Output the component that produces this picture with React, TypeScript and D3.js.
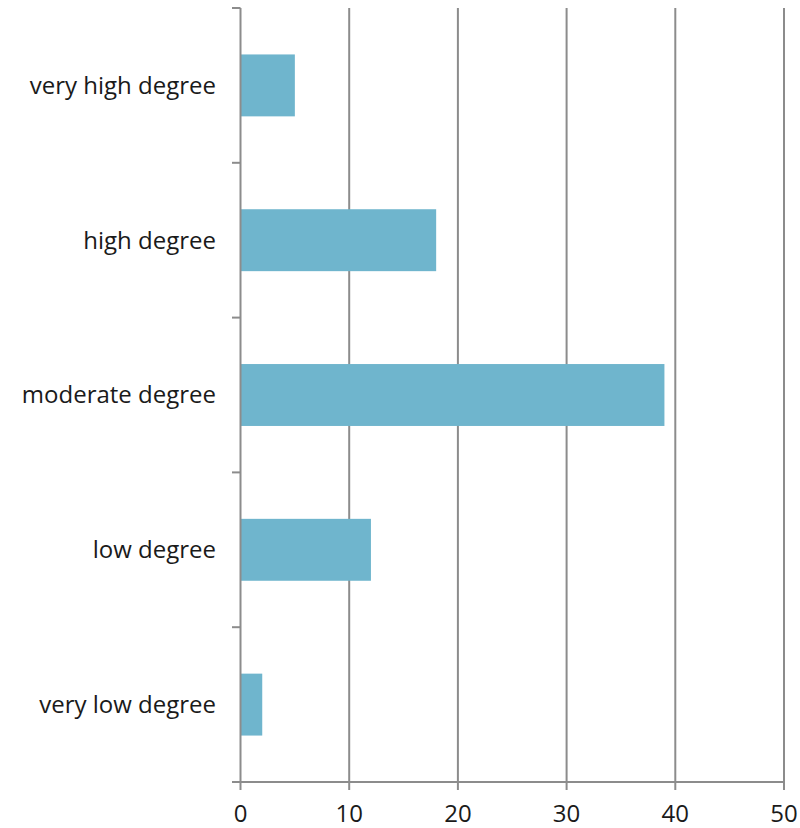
import React from "react";
import * as d3 from "d3";

const categories = ["very high degree", "high degree", "moderate degree", "low degree", "very low degree"];
const values = [5, 18, 39, 12, 2];
const xTicks = [0, 10, 20, 30, 40, 50];

export default function App() {
  const W = 800, H = 828;
  const left = 240.5, right = 784, top = 8, bottom = 782;
  const x = d3.scaleLinear().domain([0, 50]).range([left, right]);
  const y = d3.scaleBand().domain(categories).range([top, bottom]).paddingInner(0.6).paddingOuter(0.3);
  const yb = d3.scaleBand().domain(categories).range([top, bottom]);
  const grid = "#8c8c8c";
  return (
    <svg width={W} height={H} style={{ position: "absolute", left: 0, top: 0, fontFamily: "'Open Sans', sans-serif" }}>
      {xTicks.map((t) => (
        <g key={t}>
          {t > 0 && <line x1={x(t)} x2={x(t)} y1={top} y2={bottom} stroke={grid} strokeWidth={2} />}
          <line x1={x(t)} x2={x(t)} y1={bottom} y2={bottom + 8} stroke={grid} strokeWidth={2} />
          <text x={x(t)} y={822} textAnchor="middle" fontSize={24} fill="#1a1a1a">{t}</text>
        </g>
      ))}
      {categories.map((c, i) => (
        <g key={c}>
          <rect x={x(0)} y={y(c)} width={x(values[i]) - x(0)} height={y.bandwidth()} fill="#6fb5cd" />
          <text x={216} y={(yb(c) as number) + yb.bandwidth() / 2} dy="0.35em" textAnchor="end" fontSize={24} fill="#1a1a1a">{c}</text>
        </g>
      ))}
      {d3.range(categories.length + 1).map((i) => {
        const yy = top + i * yb.step();
        return <line key={i} x1={232} x2={left} y1={yy} y2={yy} stroke={grid} strokeWidth={2} />;
      })}
      <line x1={left} x2={left} y1={top} y2={bottom} stroke={grid} strokeWidth={2} />
      <line x1={left} x2={right} y1={bottom} y2={bottom} stroke={grid} strokeWidth={2} />
    </svg>
  );
}
